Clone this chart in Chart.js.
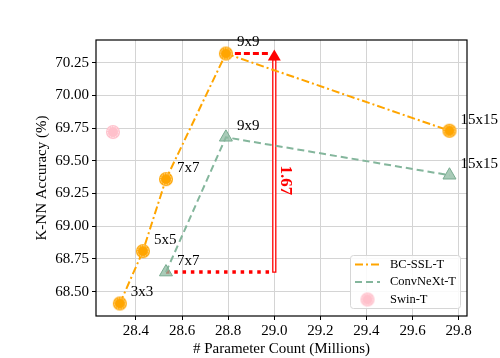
<!DOCTYPE html>
<html>
<head>
<meta charset="utf-8">
<script src="https://cdn.jsdelivr.net/npm/chart.js@4.4.1/dist/chart.umd.min.js"></script>
<style>
  html, body { margin: 0; padding: 0; background: #fff; }
  canvas { display: block; }
</style>
</head>
<body>
<canvas id="chart" width="500" height="358"></canvas>
<script>
// --- data ---
const bcParams = [28.33, 28.43, 28.53, 28.79, 29.76];
const bcAccuracy = [68.41, 68.81, 69.36, 70.32, 69.73];
const bcKernels = ["3x3", "5x5", "7x7", "9x9", "15x15"];

const convParams = [28.53, 28.79, 29.76];
const convAccuracy = [68.65, 69.68, 69.39];
const convKernels = ["7x7", "9x9", "15x15"];

const swinParams = [28.30];
const swinAccuracy = [69.72];

const xTicks = [28.4, 28.6, 28.8, 29.0, 29.2, 29.4, 29.6, 29.8];
const yTicks = [68.5, 68.75, 69.0, 69.25, 69.5, 69.75, 70.0, 70.25];

// gain annotation: ConvNeXt-T 7x7 -> x=29.0 -> up to BC-SSL-T 9x9
const gainX = 29.0;
const gainFrom = [28.53, 68.65];
const gainTo = [28.79, 70.32];
const gainText = "1.67";
const gainTextPos = [29.05, 69.35];

const SERIF = "'Liberation Serif', 'Times New Roman', serif";
const ORANGE = "#ffa500";
const SAGE = "#84b69c";
const PINK = "#ffc0cb";

// circle marker with a thin dashed white ring, like the matplotlib markers
function ringMarker(fill, r) {
  const c = document.createElement("canvas");
  const size = r * 2 + 2;
  c.width = c.height = size;
  const g = c.getContext("2d");
  g.fillStyle = fill;
  g.beginPath();
  g.arc(size / 2, size / 2, r, 0, Math.PI * 2);
  g.fill();
  g.strokeStyle = "rgba(255,255,255,0.85)";
  g.lineWidth = 0.8;
  g.setLineDash([1.5, 1]);
  g.beginPath();
  g.arc(size / 2, size / 2, r - 1.6, 0, Math.PI * 2);
  g.stroke();
  return c;
}

const orangeMarker = ringMarker(ORANGE, 7);
const pinkMarker = ringMarker(PINK, 7);

function toPoints(xs, ys) {
  return xs.map((v, i) => ({ x: v, y: ys[i] }));
}

/**
 * Red "gain" arrow drawn under the markers.
 */
function drawGain(chart) {
  const { ctx, scales: { x, y } } = chart;
  const xg = x.getPixelForValue(gainX);
  const y0 = y.getPixelForValue(gainFrom[1]);
  const y1 = y.getPixelForValue(gainTo[1]);

  ctx.save();
  ctx.strokeStyle = "#ff0000";

  // dotted horizontal from ConvNeXt-T 7x7
  ctx.lineWidth = 3.5;
  ctx.setLineDash([3.5, 4.8]);
  ctx.beginPath();
  ctx.moveTo(x.getPixelForValue(gainFrom[0]), y0);
  ctx.lineTo(xg - 2, y0);
  ctx.stroke();

  // dashed horizontal from BC-SSL-T 9x9
  ctx.lineWidth = 3;
  ctx.setLineDash([6, 3]);
  ctx.beginPath();
  ctx.moveTo(x.getPixelForValue(gainTo[0]), y1);
  ctx.lineTo(xg - 4, y1);
  ctx.stroke();

  // hollow vertical shaft
  ctx.setLineDash([]);
  ctx.lineWidth = 1.3;
  ctx.fillStyle = "#fff";
  ctx.beginPath();
  ctx.rect(xg - 1.5, y1 + 6, 3, y0 - y1 - 6);
  ctx.fill();
  ctx.stroke();

  // arrow head
  ctx.fillStyle = "#ff0000";
  ctx.beginPath();
  ctx.moveTo(xg, y1 - 4);
  ctx.lineTo(xg + 6.5, y1 + 7);
  ctx.lineTo(xg - 6.5, y1 + 7);
  ctx.closePath();
  ctx.fill();

  // rotated value
  ctx.translate(x.getPixelForValue(gainTextPos[0]), y.getPixelForValue(gainTextPos[1]));
  ctx.rotate(Math.PI / 2);
  ctx.font = "bold 17px " + SERIF;
  ctx.textAlign = "center";
  ctx.textBaseline = "middle";
  ctx.fillText(gainText, 0, 0);
  ctx.restore();
}

function drawKernelLabels(chart) {
  const { ctx, scales: { x, y } } = chart;
  ctx.save();
  ctx.font = "15px " + SERIF;
  ctx.fillStyle = "#000";
  ctx.textAlign = "left";
  ctx.textBaseline = "middle";
  bcKernels.forEach((label, i) => {
    ctx.fillText(label, x.getPixelForValue(bcParams[i]) + 11, y.getPixelForValue(bcAccuracy[i]) - 11);
  });
  convKernels.forEach((label, i) => {
    ctx.fillText(label, x.getPixelForValue(convParams[i]) + 11, y.getPixelForValue(convAccuracy[i]) - 11);
  });
  ctx.restore();
}

function drawFrame(chart) {
  const { ctx, chartArea: a } = chart;
  ctx.save();
  ctx.strokeStyle = "#000";
  ctx.lineWidth = 1.2;
  ctx.strokeRect(a.left, a.top, a.right - a.left, a.bottom - a.top);
  ctx.restore();
}

function drawLegend(chart) {
  const { ctx, chartArea: a } = chart;
  const w = 110, h = 53;
  const left = a.right - 7 - w;
  const top = a.bottom - 8 - h;
  ctx.save();
  ctx.fillStyle = "rgba(255,255,255,0.85)";
  ctx.strokeStyle = "#d6d6d6";
  ctx.lineWidth = 1;
  ctx.beginPath();
  ctx.roundRect(left + 0.5, top + 0.5, w, h, 3);
  ctx.fill();
  ctx.stroke();

  const rows = [top + 9.5, top + 27, top + 44.5];
  const sx0 = left + 5, sx1 = left + 30;

  ctx.lineWidth = 2;
  ctx.strokeStyle = ORANGE;
  ctx.setLineDash([8, 3, 2, 3]);
  ctx.beginPath();
  ctx.moveTo(sx0, rows[0]);
  ctx.lineTo(sx1, rows[0]);
  ctx.stroke();

  ctx.strokeStyle = SAGE;
  ctx.setLineDash([7, 4]);
  ctx.beginPath();
  ctx.moveTo(sx0, rows[1]);
  ctx.lineTo(sx1, rows[1]);
  ctx.stroke();
  ctx.setLineDash([]);

  ctx.drawImage(pinkMarker, (sx0 + sx1) / 2 - pinkMarker.width / 2, rows[2] - pinkMarker.height / 2);

  ctx.font = "12.5px " + SERIF;
  ctx.fillStyle = "#000";
  ctx.textBaseline = "middle";
  ["BC-SSL-T", "ConvNeXt-T", "Swin-T"].forEach((t, i) => ctx.fillText(t, left + 40, rows[i]));
  ctx.restore();
}

const decorPlugin = {
  id: "decor",
  beforeDatasetsDraw(chart) {
    drawGain(chart);
  },
  afterDraw(chart) {
    drawFrame(chart);
    drawKernelLabels(chart);
    drawLegend(chart);
  }
};

new Chart(document.getElementById("chart"), {
  type: "scatter",
  data: {
    datasets: [
      {
        label: "BC-SSL-T",
        data: toPoints(bcParams, bcAccuracy),
        showLine: true,
        borderColor: ORANGE,
        borderWidth: 2,
        borderDash: [8, 3, 2, 3],
        pointStyle: orangeMarker,
        pointRadius: 7,
        order: 2
      },
      {
        label: "ConvNeXt-T",
        data: toPoints(convParams, convAccuracy),
        showLine: true,
        borderColor: SAGE,
        borderWidth: 2,
        borderDash: [7, 4],
        pointStyle: "triangle",
        pointRadius: 7.5,
        pointBackgroundColor: "rgba(140,186,160,0.75)",
        pointBorderColor: "#78ab90",
        pointBorderWidth: 1,
        order: 3
      },
      {
        label: "Swin-T",
        data: toPoints(swinParams, swinAccuracy),
        showLine: false,
        pointStyle: pinkMarker,
        pointRadius: 7,
        order: 1
      }
    ]
  },
  options: {
    responsive: false,
    animation: false,
    devicePixelRatio: 1,
    layout: { padding: { left: 0, right: 33, top: 40, bottom: 0 } },
    plugins: {
      legend: { display: false },
      tooltip: { enabled: false }
    },
    scales: {
      x: {
        type: "linear",
        min: 28.2265,
        max: 29.836,
        afterBuildTicks: scale => { scale.ticks = xTicks.map(v => ({ value: v })); },
        afterFit: scale => { scale.height = 42; },
        border: { display: false },
        grid: { color: "#d4d4d4", lineWidth: 1, tickLength: 4, tickColor: "#000", tickWidth: 1 },
        ticks: {
          color: "#000",
          padding: 2,
          maxRotation: 0,
          font: { family: SERIF, size: 15 },
          callback: v => v.toFixed(1)
        },
        title: {
          display: true,
          text: "# Parameter Count (Millions)",
          color: "#000",
          font: { family: SERIF, size: 15 },
          padding: { top: 0, bottom: 0 }
        }
      },
      y: {
        type: "linear",
        min: 68.3143,
        max: 70.4235,
        afterBuildTicks: scale => { scale.ticks = yTicks.map(v => ({ value: v })); },
        afterFit: scale => { scale.width = 96; },
        border: { display: false },
        grid: { color: "#d4d4d4", lineWidth: 1, tickLength: 4, tickColor: "#000", tickWidth: 1 },
        ticks: {
          color: "#000",
          padding: 3,
          font: { family: SERIF, size: 15 },
          callback: v => v.toFixed(2)
        },
        title: {
          display: true,
          text: "K-NN Accuracy (%)",
          color: "#000",
          font: { family: SERIF, size: 15 },
          padding: { top: 33, bottom: 0 }
        }
      }
    }
  },
  plugins: [decorPlugin]
});
</script>
</body>
</html>
